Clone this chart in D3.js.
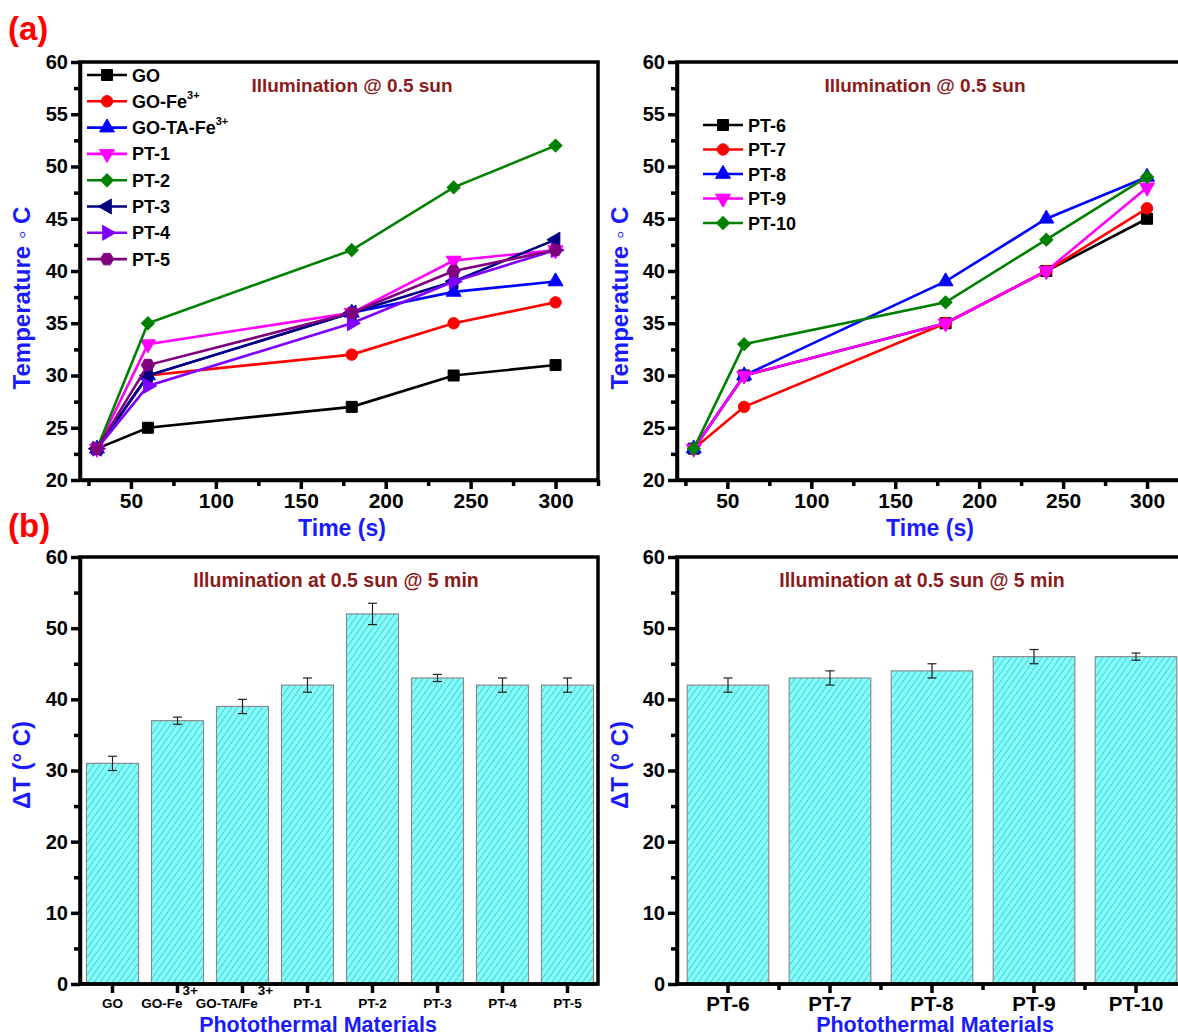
<!DOCTYPE html>
<html><head><meta charset="utf-8">
<script src="https://cdn.jsdelivr.net/npm/d3@7"></script>
<style>
body{margin:0;background:#fff}
svg text{font-family:"Liberation Sans",Arial,sans-serif;font-weight:bold}
</style>
</head><body>
<svg id="chart" width="1178" height="1036"></svg>
<script>
// ---------- DATA ----------
const times = [30, 60, 180, 240, 300];
const seriesNamesA = ["GO", "GO-Fe", "GO-TA-Fe", "PT-1", "PT-2", "PT-3", "PT-4", "PT-5"];
const seriesSupA   = ["", "3+", "3+", "", "", "", "", ""];
const GO_temp     = [23, 25, 27, 30, 31];
const GOFe_temp   = [23, 30, 32, 35, 37];
const GOTAFe_temp = [23, 30, 36, 38, 39];
const PT1_temp    = [23, 33, 36, 41, 42];
const PT2_temp    = [23, 35, 42, 48, 52];
const PT3_temp    = [23, 30, 36, 39, 43];
const PT4_temp    = [23, 29, 35, 39, 42];
const PT5_temp    = [23, 31, 36, 40, 42];
const valuesA = [GO_temp, GOFe_temp, GOTAFe_temp, PT1_temp, PT2_temp, PT3_temp, PT4_temp, PT5_temp];

const seriesNamesB = ["PT-6", "PT-7", "PT-8", "PT-9", "PT-10"];
const PT6_temp  = [23, 30, 35, 40, 45];
const PT7_temp  = [23, 27, 35, 40, 46];
const PT8_temp  = [23, 30, 39, 45, 49];
const PT9_temp  = [23, 30, 35, 40, 48];
const PT10_temp = [23, 33, 37, 43, 49];
const valuesB = [PT6_temp, PT7_temp, PT8_temp, PT9_temp, PT10_temp];

const barCatsA = ["GO", "GO-Fe", "GO-TA/Fe", "PT-1", "PT-2", "PT-3", "PT-4", "PT-5"];
const barSupA  = ["", "3+", "3+", "", "", "", "", ""];
const barValsA = [31, 37, 39, 42, 52, 43, 42, 42];
const barErrA  = [1, 0.5, 1, 1, 1.5, 0.5, 1, 1];

const barCatsB = ["PT-6", "PT-7", "PT-8", "PT-9", "PT-10"];
const barValsB = [42, 43, 44, 46, 46];
const barErrB  = [1, 1, 1, 1, 0.5];

const tempTicks = [20, 25, 30, 35, 40, 45, 50, 55, 60];
const timeTicks = [50, 100, 150, 200, 250, 300];
const dtTicks   = [0, 10, 20, 30, 40, 50, 60];

// ---------- STYLE ----------
const colorsA = ["#000000", "#ff0000", "#0000ff", "#ff00ff", "#008000", "#000080", "#8000ff", "#800080"];
const shapesA = ["square", "circle", "up", "down", "diamond", "left", "right", "hex"];
const colorsB = ["#000000", "#ff0000", "#0000ff", "#ff00ff", "#008000"];
const shapesB = ["square", "circle", "up", "down", "diamond"];
const titleColor = "#8b1a1a";
const axisLabelColor = "#1a1aff";

const svg = d3.select("#chart");
const defs = svg.append("defs");
const pat = defs.append("pattern").attr("id", "hatch").attr("patternUnits", "userSpaceOnUse")
  .attr("width", 5).attr("height", 5).attr("patternTransform", "rotate(35)");
pat.append("rect").attr("width", 5).attr("height", 5).attr("fill", "#80ffff");
pat.append("line").attr("x1", 0).attr("y1", 0).attr("x2", 0).attr("y2", 5)
  .attr("stroke", "#3f8f8f").attr("stroke-width", 1);

function markerPath(shape, size) {
  const s = size;
  switch (shape) {
    case "square": return d3.symbol(d3.symbolSquare, s * s)();
    case "circle": return d3.symbol(d3.symbolCircle, s * s * 0.85)();
    case "up": case "down": case "left": case "right":
      return d3.symbol(d3.symbolTriangle, s * s * 0.8)();
    case "diamond": return d3.symbol(d3.symbolSquare, s * s * 0.7)();
    case "hex": {
      const r = s * 0.6;
      const pts = d3.range(6).map(i => [r * Math.cos(Math.PI / 3 * i), r * Math.sin(Math.PI / 3 * i)]);
      return d3.line()(pts) + "Z";
    }
  }
}
function markerRot(shape) {
  return {down: 180, left: -90, right: 90, diamond: 45}[shape] || 0;
}
function drawMarker(g, shape, color, x, y, size) {
  g.append("path").attr("d", markerPath(shape, size))
    .attr("transform", `translate(${x},${y}) rotate(${markerRot(shape)})`)
    .attr("fill", color).attr("stroke", color).attr("stroke-width", 1);
}

function styleAxis(g, fs) {
  g.select(".domain").attr("stroke", "#000").attr("stroke-width", 3.5);
  g.selectAll(".tick line").attr("stroke", "#000").attr("stroke-width", 3.5);
  g.selectAll(".tick text").attr("font-size", fs).attr("fill", "#000");
}

function linePanel(opts) {
  const {x0, x1, y0, y1, names, sups, vals, colors, shapes, legX, legY, legStep, titleX, ylabX, ylabY, xlabX} = opts;
  const x = d3.scaleLinear().domain([20, 325]).range([x0, x1]);
  const y = d3.scaleLinear().domain([20, 60]).range([y1, y0]);
  const g = svg.append("g");
  g.append("rect").attr("x", x0).attr("y", y0).attr("width", x1 - x0).attr("height", y1 - y0)
    .attr("fill", "none").attr("stroke", "#000").attr("stroke-width", 3.5);
  const yMinor = g.append("g").attr("transform", `translate(${x0},0)`)
    .call(d3.axisLeft(y).tickValues(d3.range(22.5, 60, 5)).tickSize(6).tickFormat(""));
  styleAxis(yMinor, 19); yMinor.select(".domain").remove();
  const xMinor = g.append("g").attr("transform", `translate(0,${y1})`)
    .call(d3.axisBottom(x).tickValues(d3.range(25, 326, 50)).tickSize(6).tickFormat(""));
  styleAxis(xMinor, 19); xMinor.select(".domain").remove();
  const ya = g.append("g").attr("transform", `translate(${x0},0)`)
    .call(d3.axisLeft(y).tickValues(tempTicks).tickSize(9).tickPadding(3).tickSizeOuter(0));
  styleAxis(ya, 20);
  const xa = g.append("g").attr("transform", `translate(0,${y1})`)
    .call(d3.axisBottom(x).tickValues(timeTicks).tickSize(9).tickPadding(4).tickSizeOuter(0));
  styleAxis(xa, 21);
  const lineGen = d3.line().x((d, i) => x(times[i])).y(d => y(d));
  vals.forEach((v, k) => {
    g.append("path").datum(v).attr("d", lineGen).attr("fill", "none")
      .attr("stroke", colors[k]).attr("stroke-width", 2.6);
    v.forEach((d, i) => drawMarker(g, shapes[k], colors[k], x(times[i]), y(d), 11));
  });
  names.forEach((n, k) => {
    const ly = legY + k * legStep;
    g.append("line").attr("x1", legX).attr("x2", legX + 40).attr("y1", ly).attr("y2", ly)
      .attr("stroke", colors[k]).attr("stroke-width", 2.6);
    drawMarker(g, shapes[k], colors[k], legX + 20, ly, 11);
    const t = g.append("text").attr("x", legX + 45).attr("y", ly + 6.5).attr("font-size", 18).text(n);
    if (sups && sups[k]) t.append("tspan").attr("dy", -9).attr("font-size", 11).text(sups[k]);
  });
  g.append("text").attr("x", titleX).attr("y", 92).attr("text-anchor", "middle")
    .attr("font-size", 19).attr("fill", titleColor).text("Illumination @ 0.5 sun");
  g.append("text").attr("transform", `translate(${ylabX},${ylabY}) rotate(-90)`)
    .attr("text-anchor", "middle").attr("font-size", 24).attr("fill", axisLabelColor).text("Temperature \u25E6 C");
  g.append("text").attr("x", xlabX).attr("y", 536).attr("text-anchor", "middle")
    .attr("font-size", 23).attr("fill", axisLabelColor).text("Time (s)");
}

function barPanel(opts) {
  const {x0, x1, xr, cats, sups, vals, errs, labFs, labY, minorBetween, titleX, ylabX, xlabX, xlabFs} = opts;
  const y0 = 557, y1 = 984;
  const x = d3.scaleBand().domain(cats).range([x0, xr]).paddingInner(0.2).paddingOuter(0.1);
  const y = d3.scaleLinear().domain([0, 60]).range([y1, y0]);
  const g = svg.append("g");
  g.selectAll("rect.bar").data(vals).join("rect").attr("class", "bar")
    .attr("x", (d, i) => x(cats[i])).attr("width", x.bandwidth())
    .attr("y", d => y(d)).attr("height", d => y(0) - y(d))
    .attr("fill", "url(#hatch)").attr("stroke", "#8a8a8a").attr("stroke-width", 1.2);
  vals.forEach((d, i) => {
    const cx = x(cats[i]) + x.bandwidth() / 2;
    const e = errs[i];
    g.append("line").attr("x1", cx).attr("x2", cx).attr("y1", y(d + e)).attr("y2", y(d - e))
      .attr("stroke", "#222").attr("stroke-width", 1.2);
    [d + e, d - e].forEach(v => g.append("line").attr("x1", cx - 4.5).attr("x2", cx + 4.5)
      .attr("y1", y(v)).attr("y2", y(v)).attr("stroke", "#222").attr("stroke-width", 1.2));
  });
  g.append("rect").attr("x", x0).attr("y", y0).attr("width", x1 - x0).attr("height", y1 - y0)
    .attr("fill", "none").attr("stroke", "#000").attr("stroke-width", 3.5);
  const yMinor = g.append("g").attr("transform", `translate(${x0},0)`)
    .call(d3.axisLeft(y).tickValues(d3.range(5, 60, 10)).tickSize(6).tickFormat(""));
  styleAxis(yMinor, 19); yMinor.select(".domain").remove();
  const ya = g.append("g").attr("transform", `translate(${x0},0)`)
    .call(d3.axisLeft(y).tickValues(dtTicks).tickSize(9).tickPadding(3).tickSizeOuter(0));
  styleAxis(ya, 20);
  if (minorBetween) {
    const bounds = cats.slice(1).map(c => x(c) - x.step() * x.paddingInner() / 2);
    bounds.forEach(bx => g.append("line").attr("x1", bx).attr("x2", bx).attr("y1", y1).attr("y2", y1 + 6)
      .attr("stroke", "#000").attr("stroke-width", 3.5));
  }
  const xa = g.append("g").attr("transform", `translate(0,${y1})`)
    .call(d3.axisBottom(x).tickSize(9).tickSizeOuter(0).tickFormat(""));
  styleAxis(xa, 20);
  xa.select(".domain").attr("d", `M${x0},0H${x1}`);
  cats.forEach((c, i) => {
    const t = g.append("text").attr("x", x(c) + x.bandwidth() / 2).attr("y", labY)
      .attr("text-anchor", "middle").attr("font-size", labFs).text(c);
    if (sups && sups[i]) {
      t.attr("dx", -8);
      t.append("tspan").attr("dy", -13).attr("font-size", labFs).text(sups[i]);
    }
  });
  g.append("text").attr("x", titleX).attr("y", 587).attr("text-anchor", "middle")
    .attr("font-size", 19.5).attr("fill", titleColor).text("Illumination at 0.5 sun @ 5 min");
  g.append("text").attr("transform", `translate(${ylabX},765) rotate(-90)`)
    .attr("text-anchor", "middle").attr("font-size", 24).attr("fill", axisLabelColor).text("\u0394T (\u00B0 C)");
  g.append("text").attr("x", xlabX).attr("y", 1032).attr("text-anchor", "middle")
    .attr("font-size", xlabFs).attr("fill", axisLabelColor).text("Photothermal Materials");
}

svg.append("text").attr("x", 8).attr("y", 40).attr("font-size", 33).attr("fill", "#ff0000").text("(a)");
svg.append("text").attr("x", 8).attr("y", 537).attr("font-size", 33).attr("fill", "#ff0000").text("(b)");

linePanel({x0: 80, x1: 598, y0: 62, y1: 480, names: seriesNamesA, sups: seriesSupA, vals: valuesA,
  colors: colorsA, shapes: shapesA, legX: 87, legY: 75, legStep: 26.3, titleX: 352, ylabX: 30, ylabY: 298, xlabX: 342});
linePanel({x0: 677, x1: 1189, y0: 62, y1: 480, names: seriesNamesB, sups: null, vals: valuesB,
  colors: colorsB, shapes: shapesB, legX: 703, legY: 125, legStep: 24.5, titleX: 925, ylabX: 628, ylabY: 298, xlabX: 930});

barPanel({x0: 80, x1: 598, xr: 600, cats: barCatsA, sups: barSupA, vals: barValsA, errs: barErrA,
  labFs: 13.5, labY: 1008, minorBetween: false, titleX: 336, ylabX: 30, xlabX: 318, xlabFs: 21.5});
barPanel({x0: 677, x1: 1189, xr: 1187, cats: barCatsB, sups: null, vals: barValsB, errs: barErrB,
  labFs: 20.5, labY: 1011, minorBetween: true, titleX: 922, ylabX: 628, xlabX: 935, xlabFs: 21.5});
</script>
</body></html>
